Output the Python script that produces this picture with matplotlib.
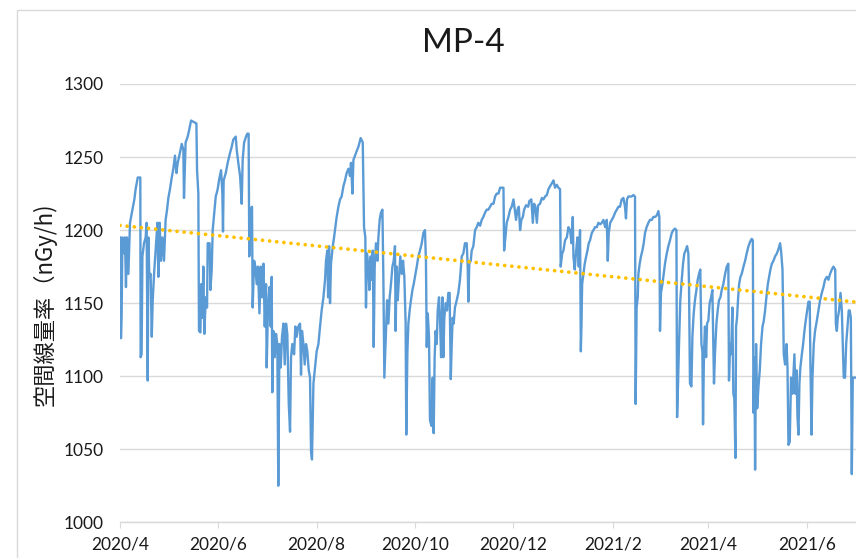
import datetime as dt
import numpy as np
import matplotlib
matplotlib.use("Agg")
import matplotlib.pyplot as plt
from matplotlib.patches import Rectangle

plt.rcParams['font.family'] = ['Lato', 'Noto Sans CJK JP', 'DejaVu Sans']

start = dt.datetime(2020, 4, 1)

# days since 2020/4/1
days = [
    0.0, 0.6, 1.0, 1.5, 2.7, 3.1, 3.7, 4.3, 5.2, 6.2, 7.7, 8.9, 9.7, 11.0, 12.6, 12.8, 13.4, 13.9, 14.9, 15.9,
    16.5, 17.2, 17.6, 18.2, 19.0, 19.7, 20.3, 21.3, 22.1, 23.2, 23.8, 24.6, 25.4, 26.3, 27.3, 28.3, 29.2, 30.0,
    31.0, 32.1, 33.1, 34.1, 35.0, 35.8, 37.2, 38.3, 39.3, 39.7, 40.7, 42.0, 42.8, 44.1, 47.4, 47.8, 48.6, 49.0,
    49.9, 50.3, 51.1, 51.7, 52.3, 53.2, 54.0, 54.4, 55.6, 56.1, 56.9, 57.5, 58.5, 59.4, 60.6, 61.4, 62.7, 63.5,
    63.9, 64.3, 65.6, 66.8, 68.3, 69.3, 70.3, 71.8, 72.4, 73.4,
    74.5, 75.5, 76.1, 77.0, 78.2, 79.0, 79.8, 80.2, 81.1, 81.9, 82.3, 83.2, 84.0, 84.8, 85.6, 86.5, 87.3, 88.1,
    89.0, 89.8, 90.6, 91.0, 91.8, 92.7, 93.5, 94.1, 94.5, 95.1, 96.0, 96.8, 97.6, 98.2, 98.9, 99.7, 100.5, 101.4,
    102.2, 103.0, 103.8, 104.7, 105.5, 106.1, 106.9, 108.0, 108.8, 109.6, 110.6, 111.7, 112.3, 112.9, 113.8,
    114.6, 115.4, 116.2, 117.1, 117.9, 118.5, 119.1, 120.0, 121.0, 122.0, 123.1, 124.1, 125.1, 126.2, 127.2,
    127.8, 128.6, 129.1, 129.7, 130.3, 130.9, 132.0, 132.8, 133.6, 134.4, 135.5, 136.5, 137.5, 138.6, 139.6,
    140.6, 141.7, 142.7, 143.3, 144.2, 144.8, 145.8, 146.8, 147.9, 149.3, 150.6, 151.4, 152.2, 152.6,
    153.2, 154.1, 154.7, 155.5, 156.1, 156.8, 157.4, 158.0, 158.8, 159.7, 160.3, 161.1, 161.9, 162.8, 163.4,
    164.0, 164.8, 165.7, 166.5, 167.3, 168.1, 169.0, 169.8, 170.6, 171.0, 171.6, 172.3, 173.1, 173.9, 174.8,
    175.6, 176.4, 177.2, 177.6, 178.3, 178.9, 179.7, 180.5, 181.4, 182.2, 183.0, 184.1, 185.1, 186.1, 187.2,
    188.2, 189.2, 189.8, 190.3, 190.9, 191.7, 192.3, 193.2, 194.0, 194.6, 195.2, 195.8, 196.5, 197.1, 197.9,
    198.5, 199.2, 200.0, 200.6, 201.2, 202.1, 202.9, 203.7, 204.5, 205.2, 205.8, 206.4, 207.0, 207.8, 208.9,
    209.9, 210.9, 212.0, 213.0, 214.0, 215.1, 215.7, 216.1, 216.7, 217.6, 218.2, 219.2, 220.3, 221.3, 222.3,
    223.4, 224.4, 225.4, 226.5, 227.5, 228.5, 229.6, 230.6,
    231.7, 232.7, 233.7, 234.8, 235.8, 236.8, 237.9, 238.3, 239.1, 239.9, 241.0, 242.0, 243.0, 244.1, 244.9,
    245.7, 246.6, 247.4, 248.2, 249.0, 249.9, 250.7, 251.9, 253.2, 254.0, 255.2, 256.1, 256.9, 257.7, 258.6,
    259.4, 260.6, 261.7, 262.7, 263.7, 264.8, 265.8, 266.8, 267.9, 268.9, 269.9, 271.0, 272.0, 273.0, 273.4,
    274.3, 275.1, 276.1, 277.2, 278.2, 279.2, 280.1, 280.9, 281.3, 282.1, 283.0, 283.8, 284.6, 285.4, 285.9,
    286.3, 286.7, 287.5, 288.3, 289.2, 290.0, 290.8, 291.6, 292.7, 293.7, 294.7, 295.8, 296.8, 297.9, 298.9,
    299.9, 301.0, 302.0, 302.6, 303.2, 304.1, 305.1, 306.1, 307.2, 308.2, 309.2,
    310.2, 311.2, 312.3, 313.3, 313.9, 314.5, 315.4, 316.4, 317.4, 318.5, 319.5, 319.9, 320.5, 321.2, 321.6,
    322.4, 323.2, 324.1, 324.9, 325.7, 326.7, 327.8, 328.8, 329.9, 330.9, 331.9, 333.0, 334.0, 334.6, 335.0,
    335.6, 336.5, 337.3, 338.1, 339.2, 340.2, 341.2, 342.3, 343.3, 344.3, 345.2, 345.6, 346.2, 346.8, 347.6,
    348.5, 349.3, 350.1, 350.9, 351.8, 352.6, 353.0, 353.6, 354.5, 355.1, 355.9, 356.7, 357.6, 358.4, 359.2,
    360.0, 360.7, 361.3, 361.7, 362.3, 362.9, 363.6, 364.2, 365.0, 365.8, 366.7, 367.5, 368.1, 368.5, 369.1,
    370.0, 370.8, 371.6, 372.5, 373.3, 374.3, 375.4, 376.4, 377.4, 377.8, 378.5, 379.1, 379.9, 380.5, 381.1,
    381.8,
    382.2, 382.8, 383.5, 384.1, 384.9, 385.7, 386.8, 387.8, 388.8, 389.9, 390.9, 391.9, 392.6, 393.0, 393.6,
    394.0, 394.6, 395.3, 396.1, 396.9, 397.7, 398.6, 399.4, 400.2, 401.0, 401.9, 402.7, 403.5, 404.4, 405.4,
    406.4, 407.5, 408.5, 409.5, 410.1, 411.0, 411.8, 412.6, 413.5, 414.1, 414.7, 415.5, 416.3, 417.2, 417.8,
    418.4, 419.0, 419.7, 420.3, 420.9, 421.5, 422.1, 423.0, 423.8, 424.6, 425.4, 426.3, 427.1, 427.9, 428.3,
    429.0, 429.6, 430.4, 431.2, 432.3, 433.3, 434.3, 435.4, 436.4, 437.4, 438.5, 439.5, 440.5, 441.6, 442.6,
    443.7, 444.1, 444.7, 445.3, 446.1, 447.0, 447.8, 448.4, 449.0, 449.8, 450.5, 451.3, 452.1, 452.7, 453.4,
    454.0, 454.6, 455.4, 456.1,
]

# air dose rate, nGy/h
dose = [
    1195, 1126, 1140, 1195, 1184, 1195, 1161, 1195, 1170, 1205, 1214, 1221, 1228, 1236, 1236, 1113, 1115, 1182, 1191, 1195,
    1205, 1097, 1195, 1168, 1170, 1127, 1152, 1173, 1186, 1205, 1168, 1205, 1179, 1195, 1179, 1207, 1214, 1222,
    1228, 1236, 1242, 1251, 1239, 1246, 1253, 1259, 1255, 1222, 1260, 1264, 1268, 1275, 1273, 1241, 1225, 1131,
    1130, 1163, 1140, 1175, 1129, 1154, 1147, 1191, 1191, 1159, 1173, 1200, 1212, 1223, 1228, 1234, 1241, 1225,
    1199, 1234, 1239, 1246, 1253, 1257, 1262, 1264, 1255, 1246,
    1237, 1218, 1248, 1260, 1264, 1266, 1266, 1182, 1214, 1216, 1147, 1179, 1175, 1163, 1175, 1143, 1175, 1154,
    1177, 1134, 1163, 1106, 1147, 1161, 1134, 1168, 1089, 1131, 1113, 1129, 1122, 1025, 1122, 1106, 1127, 1136,
    1108, 1136, 1129, 1081, 1062, 1113, 1122, 1115, 1134, 1127, 1134, 1136, 1101, 1131, 1122,
    1108, 1122, 1117, 1104, 1099, 1049, 1043, 1095, 1106, 1117, 1122, 1134, 1145, 1154, 1166,
    1179, 1186, 1154, 1189, 1150, 1177, 1189, 1195, 1202, 1209, 1216, 1221, 1223, 1230, 1234,
    1239, 1242, 1237, 1246, 1225, 1248, 1251, 1254, 1257, 1263, 1260, 1202, 1195, 1147,
    1184, 1175, 1159, 1182, 1166, 1186, 1120, 1175, 1191, 1179, 1195, 1207, 1212, 1214, 1166,
    1099, 1124, 1152, 1136, 1154, 1163, 1175, 1179, 1189, 1131, 1175, 1152, 1168, 1182, 1170,
    1179, 1168, 1136, 1060, 1117, 1136, 1145, 1152, 1159, 1163, 1168, 1175, 1182, 1186, 1191,
    1198, 1200, 1179, 1120, 1143, 1127, 1070, 1066, 1099, 1061, 1113, 1131, 1122, 1145, 1154,
    1140, 1113, 1154, 1113, 1140, 1150, 1145, 1157, 1157, 1098, 1122, 1140, 1136, 1147, 1152,
    1157, 1166, 1182, 1184, 1191, 1191, 1175, 1151, 1177, 1179, 1186, 1189, 1200, 1202, 1205,
    1203, 1207, 1209, 1212, 1214, 1214, 1216, 1218,
    1218, 1223, 1225, 1225, 1229, 1229, 1229, 1186, 1195, 1205, 1209, 1214, 1216, 1221, 1214,
    1207, 1214, 1216, 1200, 1207, 1209, 1214, 1217, 1216, 1220, 1221, 1205, 1218, 1216, 1205,
    1217, 1218, 1222, 1221, 1223, 1224, 1228, 1230, 1232, 1234, 1229, 1231, 1229, 1228, 1175,
    1184, 1186, 1193, 1195, 1202, 1200, 1191, 1209, 1182, 1173, 1186, 1195, 1175, 1200, 1117,
    1136, 1163, 1170, 1177, 1182, 1186, 1191, 1193, 1198, 1200, 1202, 1202, 1205, 1204, 1205,
    1207, 1202, 1207, 1179, 1198, 1205, 1207, 1209, 1212, 1214, 1216,
    1216, 1221, 1222, 1216, 1208, 1221, 1223, 1223, 1223, 1224, 1223, 1081, 1147, 1154, 1170,
    1177, 1182, 1186, 1191, 1198, 1202, 1205, 1207, 1207, 1209, 1209, 1210, 1213, 1209, 1131,
    1157, 1163, 1170, 1177, 1184, 1189, 1193, 1198, 1200, 1201, 1200, 1072, 1095, 1122, 1152,
    1166, 1177, 1184, 1186, 1189, 1184, 1163, 1095, 1093, 1127, 1143, 1152, 1159, 1166, 1170,
    1173, 1122, 1117, 1067, 1117, 1134, 1113, 1136, 1138, 1150, 1154, 1159, 1122, 1095, 1115,
    1136, 1145, 1152, 1154, 1159, 1163, 1170, 1175, 1177, 1097, 1122, 1115, 1147, 1088, 1085,
    1044,
    1134, 1140, 1154, 1163, 1168, 1170, 1175, 1179, 1184, 1189, 1192, 1194, 1193, 1075, 1113,
    1036, 1122, 1078, 1093, 1104, 1122, 1134, 1138, 1145, 1154, 1163, 1168, 1173, 1177, 1179,
    1182, 1184, 1187, 1191, 1186, 1173, 1115, 1108, 1122, 1106, 1053, 1055, 1099, 1088, 1101,
    1115, 1088, 1104, 1072, 1060, 1095, 1106, 1115, 1122, 1131, 1138, 1145, 1151, 1151, 1111,
    1060, 1099, 1122, 1131, 1138, 1145, 1152, 1157, 1161, 1166, 1168, 1166, 1170, 1173, 1175,
    1173, 1136, 1131, 1140, 1145, 1157, 1145, 1122, 1099, 1099, 1122, 1134, 1145, 1145, 1140,
    1033, 1099, 1099, 1099,
]

tick_labels = ['2020/4', '2020/6', '2020/8', '2020/10', '2020/12', '2021/2', '2021/4', '2021/6']

t = np.array(days)
y = np.array(dose)
x = [start + dt.timedelta(days=float(d)) for d in t]

# linear trend (Excel style), weighted by sample spacing since points are uneven
coef = np.polyfit(t, y, 1, w=np.sqrt(np.gradient(t)))
t_end = 456.6
trend_t = np.array([0.0, t_end])
trend_x = [start + dt.timedelta(days=float(d)) for d in trend_t]
trend_y = np.polyval(coef, trend_t)

fig = plt.figure(figsize=(8.56, 5.58), dpi=100)
fig.patches.append(Rectangle((17 / 856, -0.05), 1.2, 0.05 + (558 - 10.5) / 558,
                             transform=fig.transFigure, fill=False,
                             edgecolor='#d9d9d9', linewidth=1.0))

ax = fig.add_axes([120 / 856, 35.7 / 558, 736 / 856, 438.3 / 558])
ax.plot(x, y, color='#5b9bd5', linewidth=1.7, zorder=3)
ax.plot(trend_x, trend_y, color='#ffc000', linewidth=2.7, linestyle=(0, (0.01, 1.9)),
        dash_capstyle='round', zorder=4)

ax.set_ylim(1000, 1300)
ax.set_yticks(np.arange(1000, 1301, 50))
ax.set_xlim(start, start + dt.timedelta(days=t_end))
tick_dates = [dt.datetime(int(s.split('/')[0]), int(s.split('/')[1]), 1) for s in tick_labels]
ax.set_xticks(tick_dates)
ax.set_xticklabels(tick_labels)

ax.grid(axis='y', color='#d9d9d9', linewidth=1.0)
ax.set_axisbelow(True)
for side in ['left', 'right', 'top']:
    ax.spines[side].set_visible(False)
ax.spines['bottom'].set_color('#d9d9d9')
ax.spines['bottom'].set_linewidth(1.0)
ax.tick_params(axis='y', length=0, pad=12, labelsize=12.5, labelcolor='#1a1a1a')
ax.tick_params(axis='x', length=4, color='#d9d9d9', pad=6, labelsize=12.5, labelcolor='#1a1a1a')

fig.text(463 / 856, 1 - 43 / 558, 'MP-4', ha='center', va='center', fontsize=24, color='#1a1a1a')
fig.text(45 / 856, 1 - 304 / 558, '空間線量率（nGy/h)', rotation=90, ha='center', va='center',
         fontsize=16, color='#1a1a1a', family=['Noto Sans CJK JP', 'DejaVu Sans'])

fig.savefig('out.png', dpi=100)
